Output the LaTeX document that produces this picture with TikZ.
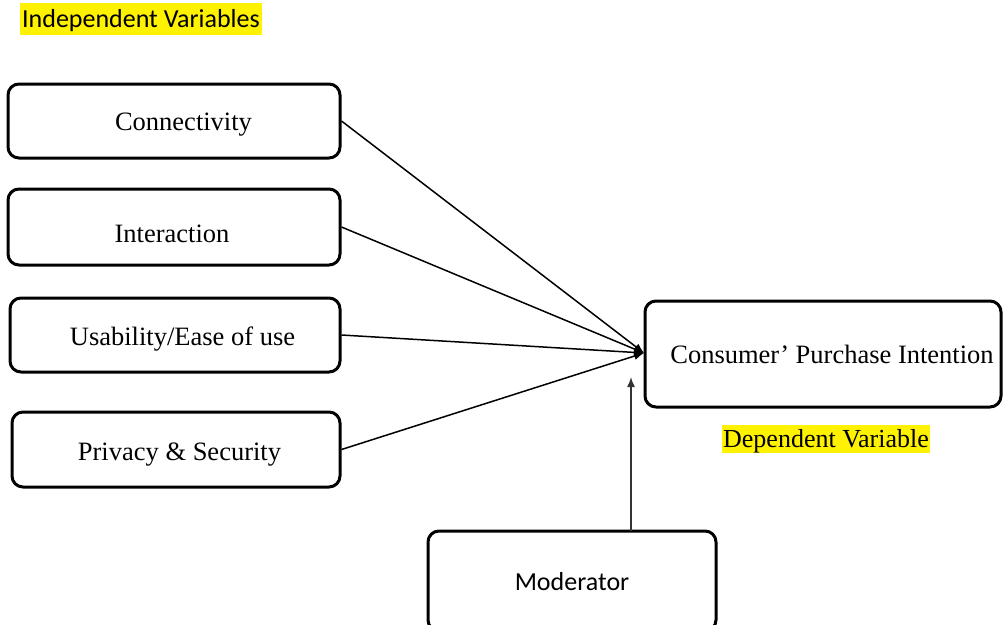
\documentclass[tikz,border=0pt]{standalone}
\usepackage{fontspec}
\setmainfont{Liberation Serif}
\newfontfamily\timesf{Liberation Serif}
\newfontfamily\calib{Carlito}
\usetikzlibrary{arrows.meta}
\tikzset{
  varbox/.style={draw=black, line width=3pt, rounded corners=11pt, fill=white, inner sep=0pt},
  tx/.style={anchor=base, inner sep=0pt, font=\timesf\fontsize{26.5}{31}\selectfont},
  stx/.style={anchor=base, inner sep=0pt, font=\calib\fontsize{26}{31}\selectfont},
  hlfill/.style={fill=yellow},
  link/.style={line width=1.5pt, -{Latex[length=10pt,width=8pt]}},
}
\begin{document}
\begin{tikzpicture}[x=1pt,y=-1pt]
\useasboundingbox (0,0) rectangle (1003,624);
\clip (0,0) rectangle (1003,624);
% highlights
\fill[hlfill] (20,3) rectangle (262,35);
\fill[hlfill] (722,425) rectangle (930,453);
% boxes
\node[varbox, minimum width=332pt, minimum height=74pt] (c1) at (174,121) {};
\node[varbox, minimum width=332pt, minimum height=76pt] (c2) at (174,227) {};
\node[varbox, minimum width=330pt, minimum height=74pt] (c3) at (175,335) {};
\node[varbox, minimum width=328pt, minimum height=75pt] (c4) at (176,449.5) {};
\node[varbox, minimum width=356pt, minimum height=106pt] (dv) at (823,354) {};
\node[varbox, minimum width=288pt, minimum height=100pt] (mod) at (572,581) {};
% texts
\node[stx] (iv) at (141,27) {Independent Variables};
\node[tx] (c1t) at (183.5,130) {Connectivity};
\node[tx] (c2t) at (172,242) {Interaction};
\node[tx] (c3t) at (182.5,345) {Usability/Ease of use};
\node[tx] (c4t) at (179.5,460) {Privacy \& Security};
\node[tx] (dvt) at (832,363) {Consumer’ Purchase Intention};
\node[tx, font=\timesf\fontsize{26}{31}\selectfont] (dvl) at (826,447) {Dependent Variable};
\node[stx] (modt) at (572,590) {Moderator};
% connectors
\coordinate (tip) at (644,353);
\coordinate (mtop) at (631,531);
\coordinate (mtip) at (631,377);
\draw[link] (c1.east) -- (tip);
\draw[link] (c2.east) -- (tip);
\draw[link] (c3.east) -- (tip);
\draw[link] (c4.east) -- (tip);
\draw[link, draw=black!80, fill=black!80] (mtop) -- (mtip);
\end{tikzpicture}
\end{document}
